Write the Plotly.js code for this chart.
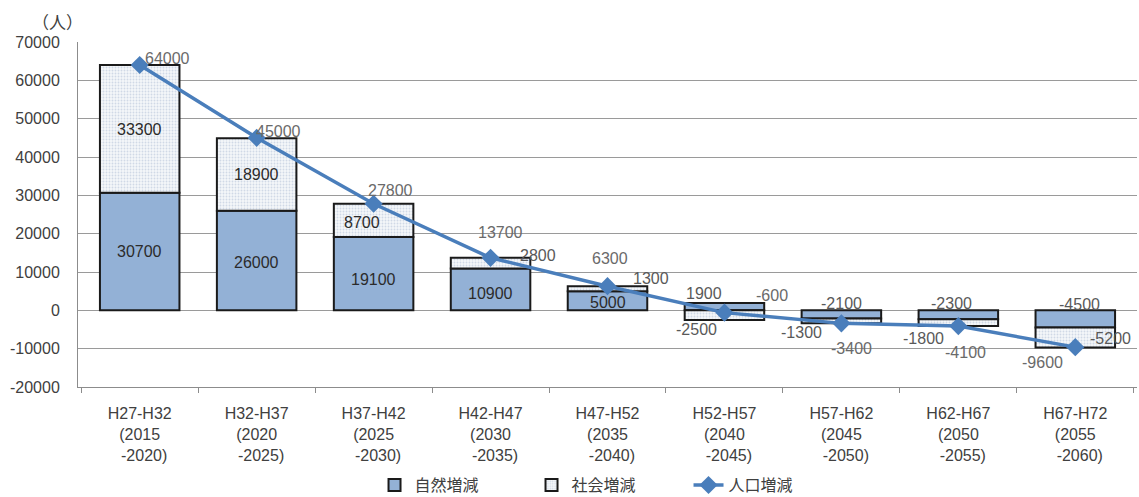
<!DOCTYPE html>
<html><head><meta charset="utf-8">
<script src="https://cdn.plot.ly/plotly-3.0.1.min.js"></script>
<style>html,body{margin:0;padding:0;background:#fff}#chart{width:1139px;height:497px}</style>
</head><body><div id="chart"></div>
<script>
// ---- data ----
const categories = [
  "H27-H32<br>(2015<br>\u00a0\u00a0-2020)",
  "H32-H37<br>(2020<br>\u00a0\u00a0-2025)",
  "H37-H42<br>(2025<br>\u00a0\u00a0-2030)",
  "H42-H47<br>(2030<br>\u00a0\u00a0-2035)",
  "H47-H52<br>(2035<br>\u00a0\u00a0-2040)",
  "H52-H57<br>(2040<br>\u00a0\u00a0-2045)",
  "H57-H62<br>(2045<br>\u00a0\u00a0-2050)",
  "H62-H67<br>(2050<br>\u00a0\u00a0-2055)",
  "H67-H72<br>(2055<br>\u00a0\u00a0-2060)"
];
const naturalChange = [30700, 26000, 19100, 10900, 5000, 1900, -2100, -2300, -4500];
const socialChange  = [33300, 18900, 8700, 2800, 1300, -2500, -1300, -1800, -5200];
const populationChange = [64000, 45000, 27800, 13700, 6300, -600, -3400, -4100, -9600];
const seriesNames = ["自然増減", "社会増減", "人口増減"];
const yTicks = [-20000, -10000, 0, 10000, 20000, 30000, 40000, 50000, 60000, 70000];

// ---- label placement (style only: pixel shifts) ----
const natShift = [[0,0],[0,-2],[0,-6],[0,-4],[0,-2],[-20,13],[0,11],[-7,11],[4,14]];
const socShift = [[0,-1],[0,0],[-12,-2],[47,8],[43,10],[-28,-14],[-40,-12],[-35,-16],[35,-1]];
const totShift = [[28,7],[22,6],[17,13],[10,25],[2,28],[48,17],[10,-25],[7,-26],[-33,-15]];
const natInside = [true,true,true,true,true,false,false,false,false];
const socInside = [true,true,true,false,false,false,false,false,false];

const annotations = [];
categories.forEach((c, i) => {
  const n = naturalChange[i], s = socialChange[i];
  annotations.push({x: c, y: n / 2, text: String(n), showarrow: false,
    xshift: natShift[i][0], yshift: natShift[i][1],
    font: {size: 16, color: natInside[i] ? '#2b2b2b' : '#595959'}});
  const sBase = (Math.sign(n) === Math.sign(s)) ? n : 0;
  annotations.push({x: c, y: sBase + s / 2, text: String(s), showarrow: false,
    xshift: socShift[i][0], yshift: socShift[i][1],
    font: {size: 16, color: socInside[i] ? '#2b2b2b' : '#595959'}});
  annotations.push({x: c, y: populationChange[i], text: String(populationChange[i]), showarrow: false,
    xshift: totShift[i][0], yshift: totShift[i][1],
    font: {size: 16, color: '#6a6a6a'}});
});
annotations.push({xref: 'paper', yref: 'paper', x: -0.019, y: 1.058, xanchor: 'center', yanchor: 'middle',
  text: '（人）', showarrow: false,
  font: {family: '"Noto Sans CJK JP", sans-serif', size: 17, color: '#404040'}});

const traces = [
  {type: 'bar', name: seriesNames[0], x: categories, y: naturalChange,
   marker: {color: '#93b1d6', line: {color: '#1a1a1a', width: 2}}, hoverinfo: 'skip'},
  {type: 'bar', name: seriesNames[1], x: categories, y: socialChange,
   marker: {color: '#f5f7fa', line: {color: '#1a1a1a', width: 2},
     pattern: {shape: '.', fgcolor: '#d0d9e6', bgcolor: '#f5f7fa', size: 3, solidity: 0.3}}, hoverinfo: 'skip'},
  {type: 'scatter', mode: 'lines+markers', name: seriesNames[2], x: categories, y: populationChange,
   line: {color: '#4a7ebb', width: 3.5}, marker: {symbol: 'diamond', size: 14, color: '#4a7ebb'}, hoverinfo: 'skip'}
];

const layout = {
  width: 1139, height: 497,
  margin: {l: 78, r: 2, t: 42, b: 110, autoexpand: false},
  paper_bgcolor: '#fff', plot_bgcolor: '#fff',
  font: {family: '"Liberation Sans", "Noto Sans CJK JP", sans-serif', size: 16, color: '#404040'},
  barmode: 'relative', bargap: 0.32,
  showlegend: true,
  legend: {orientation: 'h', x: 0.28, xanchor: 'left', y: -0.235, yanchor: 'top',
    font: {family: '"Noto Sans CJK JP", sans-serif', size: 16, color: '#404040'},
    traceorder: 'normal', itemwidth: 30, entrywidth: 112, entrywidthmode: 'pixels'},
  xaxis: {type: 'category', showgrid: false, showline: true, linecolor: '#8c8c8c', linewidth: 1,
    ticks: 'outside', tickson: 'boundaries', ticklen: 5, tickcolor: '#8c8c8c', automargin: false,
    tickfont: {size: 16, color: '#404040'}, ticklabelstandoff: 12, zeroline: false},
  yaxis: {range: [-20000, 70000], tickvals: yTicks, ticktext: yTicks.map(String), automargin: false,
    showgrid: true, gridcolor: '#9a9a9a', gridwidth: 1,
    showline: true, linecolor: '#8c8c8c', linewidth: 1, ticks: '',
    zeroline: true, zerolinecolor: '#9a9a9a', zerolinewidth: 1,
    tickfont: {size: 16, color: '#404040'}, ticklabelstandoff: 14},
  annotations: annotations
};
Plotly.newPlot('chart', traces, layout, {displayModeBar: false, staticPlot: true});
</script></body></html>
